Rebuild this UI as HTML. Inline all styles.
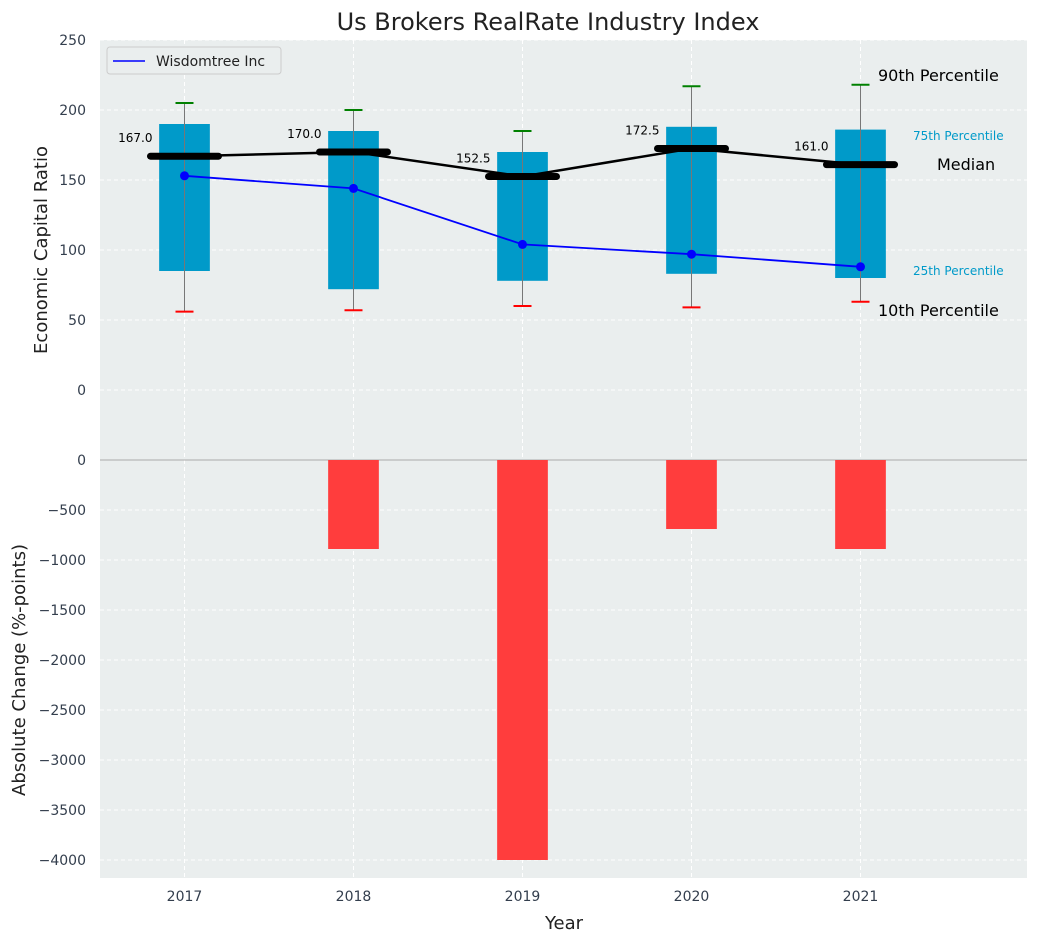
<!DOCTYPE html>
<html><head><meta charset="utf-8"><style>
body{margin:0;background:#fff;font-family:"Liberation Sans","DejaVu Sans",sans-serif}
svg text{font-family:"DejaVu Sans","Liberation Sans",sans-serif}
</style></head><body>
<svg id="chart" width="1039" height="942" xmlns="http://www.w3.org/2000/svg"></svg>
<script>
const years=[2017,2018,2019,2020,2021];
const p10=[56,57,60,59,63];
const p25=[85,72,78,83,80];
const median=[167,170,152.5,172.5,161];
const p75=[190,185,170,188,186];
const p90=[205,200,185,217,218];
const wisdom=[153,144,104,97,88];
const change=[0,-890,-4000,-690,-890];
const topTicks=[0,50,100,150,200,250];
const botTicks=[0,-500,-1000,-1500,-2000,-2500,-3000,-3500,-4000];

const svg=document.getElementById('chart');
const NS='http://www.w3.org/2000/svg';
function el(t,a,txt){const e=document.createElementNS(NS,t);for(const k in a)e.setAttribute(k,a[k]);if(txt!==undefined)e.textContent=txt;svg.appendChild(e);return e;}
const L=100,R=1027;
const x=v=>L+(v-2016.5)*169;
const yT=v=>390-v*1.4;
const yB=v=>460-v*0.1;

let e;
e=el('rect',{x:L,y:40,width:R-L,height:420,fill:'#eaeeee'});


e=el('rect',{x:L,y:460,width:R-L,height:418,fill:'#eaeeee'});



topTicks.forEach(t=>{
 el('line',{x1:L,x2:R,y1:yT(t),y2:yT(t),stroke:'#fff','stroke-dasharray':'4,3'});
 e=el('text',{x:86,y:yT(t)+5,'text-anchor':'end','font-size':14,fill:'#333e4d'},t);
 
 
});
botTicks.forEach(t=>{
 el('line',{x1:L,x2:R,y1:yB(t),y2:yB(t),stroke:'#fff','stroke-dasharray':'4,3'});
 e=el('text',{x:86,y:yB(t)+5,'text-anchor':'end','font-size':14,fill:'#333e4d'},t===0?'0':'\u2212'+(-t));
 
 
});
years.forEach(yr=>{
 el('line',{x1:x(yr),x2:x(yr),y1:40,y2:878,stroke:'#fff','stroke-dasharray':'4,3'});
 e=el('text',{x:x(yr),y:901,'text-anchor':'middle','font-size':14,fill:'#333e4d'},yr);
 
 
});
el('line',{x1:L,x2:R,y1:460,y2:460,stroke:'#aaa','stroke-width':1});

years.forEach((yr,i)=>{
 const cx=x(yr),hw=0.15*169;
 e=el('rect',{x:cx-hw,y:yT(p75[i]),width:2*hw,height:yT(p25[i])-yT(p75[i]),fill:'#009ac9'});
 
 
 e=el('line',{x1:cx,x2:cx,y1:yT(p90[i]),y2:yT(p10[i]),stroke:'#777','stroke-width':1});
 
 
 e=el('line',{x1:cx-9,x2:cx+9,y1:yT(p90[i]),y2:yT(p90[i]),stroke:'green','stroke-width':2});
 
 
 e=el('line',{x1:cx-9,x2:cx+9,y1:yT(p10[i]),y2:yT(p10[i]),stroke:'red','stroke-width':2});
 
 
 e=el('line',{x1:cx-34,x2:cx+34,y1:yT(median[i]),y2:yT(median[i]),stroke:'#000','stroke-width':7,'stroke-linecap':'round'});
 
 
 e=el('text',{x:cx-32,y:yT(median[i])-14,'text-anchor':'end','font-size':12,fill:'#000'},median[i].toFixed(1));
 
 
 if(change[i]!==0){
  e=el('rect',{x:cx-hw,y:460,width:2*hw,height:yB(change[i])-460,fill:'#ff3d3d'});
  
  
 }
});
e=el('polyline',{points:years.map((yr,i)=>x(yr)+','+yT(median[i])).join(' '),fill:'none',stroke:'#000','stroke-width':2.5});


e=el('polyline',{points:years.map((yr,i)=>x(yr)+','+yT(wisdom[i])).join(' '),fill:'none',stroke:'blue','stroke-width':1.8});


years.forEach((yr,i)=>{
 e=el('circle',{cx:x(yr),cy:yT(wisdom[i]),r:4.5,fill:'blue'});
 
 
});

[[878,81,'90th Percentile',16,'#000'],[913,140,'75th Percentile',12,'#009ac9'],[937,170,'Median',16,'#000'],[913,275,'25th Percentile',12,'#009ac9'],[878,316,'10th Percentile',16,'#000']].forEach(a=>{
 e=el('text',{x:a[0],y:a[1],'font-size':a[3],fill:a[4]},a[2]);
 
 
});

e=el('rect',{x:107,y:47,width:174,height:27,rx:3,fill:'#eaeeee',stroke:'#ccc'});


el('line',{x1:113,x2:145,y1:61,y2:61,stroke:'blue','stroke-width':1.5});
e=el('text',{x:156,y:66,'font-size':14,fill:'#222'},'Wisdomtree Inc');



e=el('text',{x:548,y:30,'text-anchor':'middle','font-size':24,fill:'#222'},'Us Brokers RealRate Industry Index');


e=el('text',{x:564,y:929,'text-anchor':'middle','font-size':18,fill:'#222'},'Year');


e=el('text',{x:0,y:0,'text-anchor':'middle','font-size':18,fill:'#222',transform:'translate(47,250) rotate(-90)'},'Economic Capital Ratio');


e=el('text',{x:0,y:0,'text-anchor':'middle','font-size':18,fill:'#222',transform:'translate(25,670) rotate(-90)'},'Absolute Change (%-points)');


</script>
</body></html>
